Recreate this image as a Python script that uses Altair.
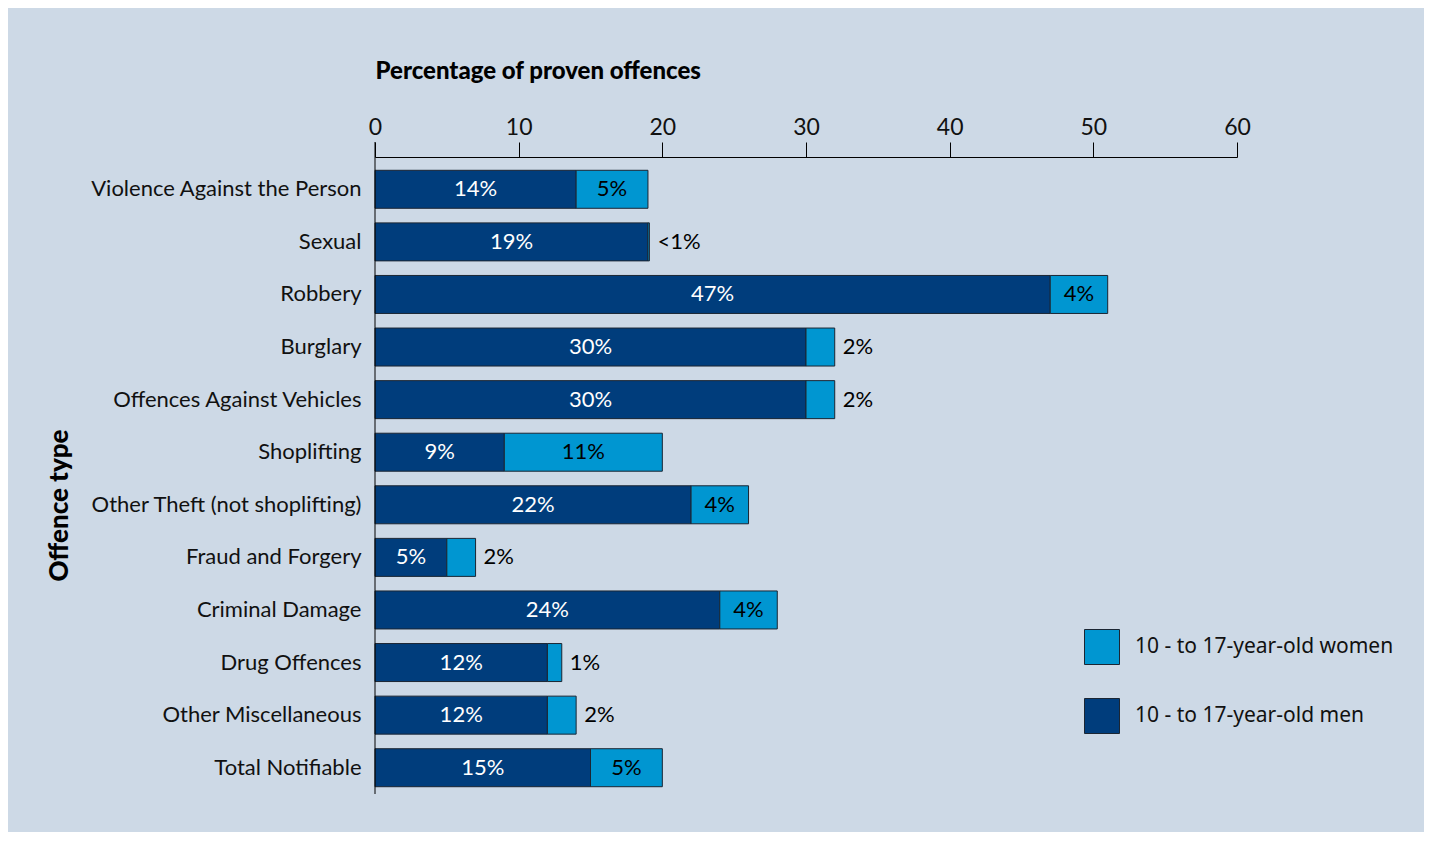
import altair as alt
import pandas as pd

categories = ["Violence Against the Person", "Sexual", "Robbery", "Burglary",
              "Offences Against Vehicles", "Shoplifting", "Other Theft (not shoplifting)",
              "Fraud and Forgery", "Criminal Damage", "Drug Offences",
              "Other Miscellaneous", "Total Notifiable"]
men = [14, 19, 47, 30, 30, 9, 22, 5, 24, 12, 12, 15]
women = [5, 0.1, 4, 2, 2, 11, 4, 2, 4, 1, 2, 5]
men_labels = ["14%", "19%", "47%", "30%", "30%", "9%", "22%", "5%", "24%", "12%", "12%", "15%"]
women_labels = ["5%", "<1%", "4%", "2%", "2%", "11%", "4%", "2%", "4%", "1%", "2%", "5%"]
series_names = ["10 - to 17-year-old women", "10 - to 17-year-old men"]
x_ticks = [0, 10, 20, 30, 40, 50, 60]

MEN_C = "#003d7c"
WOMEN_C = "#0096d1"
BG = "#cdd9e6"
FONT = "Lato"

bar_rows = []
men_txt = []
w_in = []
w_out = []
for c, m, w, ml, wl in zip(categories, men, women, men_labels, women_labels):
    bar_rows.append({"cat": c, "series": series_names[1], "start": 0, "end": m})
    bar_rows.append({"cat": c, "series": series_names[0], "start": m, "end": m + w})
    men_txt.append({"cat": c, "x": m / 2, "label": ml})
    if w >= 3:
        w_in.append({"cat": c, "x": m + w / 2, "label": wl})
    else:
        w_out.append({"cat": c, "x": m + w, "label": wl})

bars_df = pd.DataFrame(bar_rows)

y_enc = alt.Y("cat:N", sort=categories,
              axis=alt.Axis(title="Offence type", domain=False, ticks=False,
                            labelFontSize=22, labelFont=FONT, labelColor="#111111",
                            labelPadding=14, labelLimit=400,
                            titleFont=FONT, titleFontSize=26, titleFontWeight=900,
                            titleColor="#000000", titleX=-316, titleY=342,
                            titleAngle=270, titleAlign="center", titleBaseline="middle"),
              scale=alt.Scale(paddingInner=0.28, paddingOuter=0.14))

x_scale = alt.Scale(domain=[0, 60], nice=False)

bars = alt.Chart(bars_df).mark_bar(stroke="#1b2633", strokeWidth=1, size=38).encode(
    y=y_enc,
    x=alt.X("start:Q", scale=x_scale,
            axis=alt.Axis(orient="top", values=x_ticks, offset=6, tickSize=15,
                          tickColor="#000000", domainColor="#000000", grid=False,
                          labelFont=FONT, labelFontSize=23, labelColor="#111111",
                          labelPadding=3, labelFlush=False,
                          title="Percentage of proven offences",
                          titleFont=FONT, titleFontSize=24, titleFontWeight=900,
                          titleColor="#000000", titleX=0, titleY=-79,
                          titleAlign="left", titleBaseline="alphabetic")),
    x2="end:Q",
    color=alt.Color("series:N",
                    scale=alt.Scale(domain=series_names, range=[WOMEN_C, MEN_C]),
                    legend=alt.Legend(title=None, orient="none", legendX=709, legendY=466,
                                      symbolType="square", symbolSize=1225,
                                      symbolStrokeColor="#1b2633", symbolStrokeWidth=1,
                                      symbolOpacity=1,
                                      labelFont="Noto Sans", labelFontSize=21,
                                      labelColor="#111111", labelOffset=15,
                                      rowPadding=29, padding=0, labelLimit=400)),
)

men_text = alt.Chart(pd.DataFrame(men_txt)).mark_text(
    color="white", font=FONT, fontSize=22, align="center", baseline="middle"
).encode(y=alt.Y("cat:N", sort=categories), x=alt.X("x:Q", scale=x_scale), text="label:N")

win_text = alt.Chart(pd.DataFrame(w_in)).mark_text(
    color="#000000", font=FONT, fontSize=22, align="center", baseline="middle"
).encode(y=alt.Y("cat:N", sort=categories), x=alt.X("x:Q", scale=x_scale), text="label:N")

wout_text = alt.Chart(pd.DataFrame(w_out)).mark_text(
    color="#000000", font=FONT, fontSize=22, align="left", baseline="middle", dx=8
).encode(y=alt.Y("cat:N", sort=categories), x=alt.X("x:Q", scale=x_scale), text="label:N")

yline = alt.Chart(pd.DataFrame({"v": [0]})).mark_rule(color="#000000", strokeWidth=1).encode(
    x=alt.X("v:Q", scale=x_scale), y=alt.value(-21), y2=alt.value(631)
)

chart = alt.layer(bars, men_text, win_text, wout_text, yline).properties(
    width=862, height=631,
    autosize=alt.AutoSizeParams(type="none"),
    padding={"left": 367, "top": 155, "right": 187, "bottom": 38},
    background=BG,
).configure_view(stroke=None)

chart.save("out.html", embed_options={"renderer": "svg", "actions": False})
